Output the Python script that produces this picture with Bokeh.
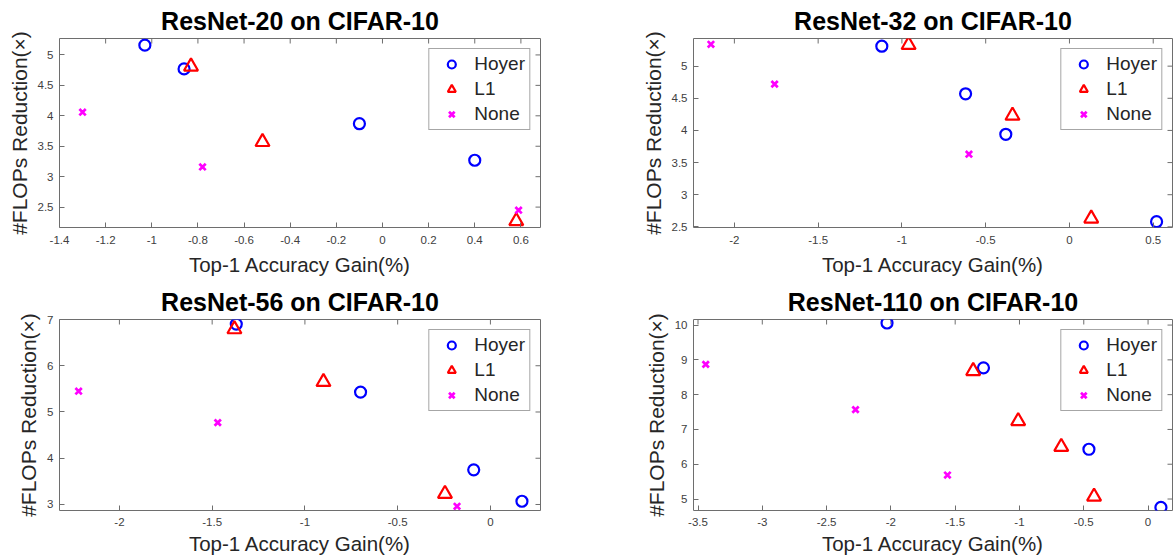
import math
from bokeh.plotting import figure
from bokeh.layouts import gridplot
from bokeh.models import FixedTicker, CustomJSTickFormatter, Range1d
from bokeh.embed import file_html
from bokeh.resources import INLINE

# ---------------- data ----------------
titles = ["ResNet-20 on CIFAR-10", "ResNet-32 on CIFAR-10",
          "ResNet-56 on CIFAR-10", "ResNet-110 on CIFAR-10"]
series_names = ["Hoyer", "L1", "None"]
x_label = "Top-1 Accuracy Gain(%)"
y_label = "#FLOPs Reduction(×)"

r20_hoyer_x = [-1.03, -0.86, -0.10, 0.40]
r20_hoyer_y = [5.16, 4.77, 3.87, 3.27]
r20_l1_x = [-0.83, -0.52, 0.58]
r20_l1_y = [4.81, 3.57, 2.27]
r20_none_x = [-1.30, -0.78, 0.59]
r20_none_y = [4.06, 3.16, 2.45]

r32_hoyer_x = [-1.12, -0.62, -0.38, 0.52]
r32_hoyer_y = [5.31, 4.57, 3.94, 2.58]
r32_l1_x = [-0.96, -0.34, 0.13]
r32_l1_y = [5.33, 4.23, 2.63]
r32_none_x = [-2.14, -1.76, -0.60]
r32_none_y = [5.34, 4.72, 3.63]

r56_hoyer_x = [-1.37, -0.70, -0.09, 0.17]
r56_hoyer_y = [6.90, 5.43, 3.75, 3.07]
r56_l1_x = [-1.38, -0.90, -0.245]
r56_l1_y = [6.79, 5.65, 3.23]
r56_none_x = [-2.22, -1.47, -0.18]
r56_none_y = [5.45, 4.77, 2.96]

r110_hoyer_x = [-2.03, -1.28, -0.46, 0.10]
r110_hoyer_y = [10.06, 8.77, 6.43, 4.76]
r110_l1_x = [-1.36, -1.01, -0.675, -0.42]
r110_l1_y = [8.68, 7.24, 6.50, 5.07]
r110_none_x = [-3.44, -2.275, -1.56]
r110_none_y = [8.87, 7.57, 5.69]

r20_xticks = [-1.4, -1.2, -1.0, -0.8, -0.6, -0.4, -0.2, 0.0, 0.2, 0.4, 0.6]
r20_yticks = [2.5, 3.0, 3.5, 4.0, 4.5, 5.0]
r32_xticks = [-2.0, -1.5, -1.0, -0.5, 0.0, 0.5]
r32_yticks = [2.5, 3.0, 3.5, 4.0, 4.5, 5.0]
r56_xticks = [-2.0, -1.5, -1.0, -0.5, 0.0]
r56_yticks = [3, 4, 5, 6, 7]
r110_xticks = [-3.5, -3.0, -2.5, -2.0, -1.5, -1.0, -0.5, 0.0]
r110_yticks = [5, 6, 7, 8, 9, 10]

r20_xlim, r20_ylim = (-1.40, 0.685), (2.165, 5.27)
r32_xlim, r32_ylim = (-2.244, 0.615), (2.49, 5.43)
r56_xlim, r56_ylim = (-2.323, 0.27), (2.87, 7.0)
r110_xlim, r110_ylim = (-3.535, 0.19), (4.67, 10.16)

# ---------------- style ----------------
FONT = "Liberation Sans"
AX = "#6e6e6e"
TICKTXT = "#404040"
LBL = "#262626"
fmt = CustomJSTickFormatter(code="return String(Math.round(tick*10)/10);")


def make(title, sets, xticks, yticks, xlim, ylim, w, h, borders, xstand):
    left, right, top, bottom = borders
    p = figure(width=w, height=h, output_backend="svg", toolbar_location=None,
               x_range=Range1d(*xlim), y_range=Range1d(*ylim),
               min_border_left=left, min_border_right=right,
               min_border_top=top, min_border_bottom=bottom)
    p.title.text = title
    p.title.align = "center"
    p.title.text_font = FONT
    p.title.text_font_size = "25px"
    p.title.text_font_style = "bold"
    p.title.text_color = "#000000"
    p.title.standoff = 8
    p.xgrid.visible = False
    p.ygrid.visible = False
    p.outline_line_color = AX
    p.outline_line_width = 1
    p.background_fill_color = "white"
    p.border_fill_color = "white"

    for ax in (p.xaxis[0], p.yaxis[0]):
        ax.axis_line_color = None
        ax.major_tick_in = 5
        ax.major_tick_out = 0
        ax.minor_tick_line_color = None
        ax.major_tick_line_color = AX
        ax.major_label_text_font = FONT
        ax.major_label_text_font_size = "11.5px"
        ax.major_label_text_color = TICKTXT
        ax.axis_label_text_font = FONT
        ax.axis_label_text_font_style = "normal"
        ax.axis_label_text_color = LBL
        ax.formatter = fmt
    p.xaxis[0].axis_label_text_font_size = "20.5px"
    p.yaxis[0].axis_label_text_font_size = "21px"
    p.xaxis[0].ticker = FixedTicker(ticks=xticks)
    p.yaxis[0].ticker = FixedTicker(ticks=yticks)
    p.xaxis[0].axis_label = x_label
    p.yaxis[0].axis_label = y_label
    p.xaxis[0].major_label_standoff = xstand[0]
    p.yaxis[0].major_label_standoff = 6
    p.xaxis[0].axis_label_standoff = xstand[1]
    p.yaxis[0].axis_label_standoff = 4

    # inward ticks on the top and right edges of the box
    p.ray(x=xticks, y=[ylim[1]] * len(xticks), length=5, length_units="screen",
          angle=-math.pi / 2, line_color=AX, line_width=1)
    p.ray(x=[xlim[1]] * len(yticks), y=yticks, length=5, length_units="screen",
          angle=math.pi, line_color=AX, line_width=1)

    (hx, hy), (lx, ly), (nx, ny) = sets
    p.scatter(hx, hy, marker="circle", size=11, fill_color=None,
              line_color="#0000ff", line_width=2.2, legend_label=series_names[0])
    p.scatter(lx, ly, marker="triangle", size=14, fill_color=None,
              line_color="#ff0000", line_width=2.2, legend_label=series_names[1])
    p.scatter(nx, ny, marker="x", size=9, line_color="#ff00ff",
              line_width=2.7, legend_label=series_names[2])

    lg = p.legend[0]
    lg.location = "top_right"
    lg.margin = 10
    lg.padding = 4
    lg.spacing = 3
    lg.glyph_width = 36
    lg.glyph_height = 20
    lg.label_height = 20
    lg.label_standoff = 5
    lg.label_text_font = FONT
    lg.label_text_font_size = "19px"
    lg.label_text_color = LBL
    lg.border_line_color = "#4d4d4d"
    lg.border_line_width = 1
    lg.background_fill_color = "white"
    lg.background_fill_alpha = 1
    return p


p1 = make(titles[0], [(r20_hoyer_x, r20_hoyer_y), (r20_l1_x, r20_l1_y), (r20_none_x, r20_none_y)],
          r20_xticks, r20_yticks, r20_xlim, r20_ylim, 587, 279, (59, 47, 36, 51), (8, 6))
p2 = make(titles[1], [(r32_hoyer_x, r32_hoyer_y), (r32_l1_x, r32_l1_y), (r32_none_x, r32_none_y)],
          r32_xticks, r32_yticks, r32_xlim, r32_ylim, 588, 279, (106, 3, 36, 52), (8, 6))
p3 = make(titles[2], [(r56_hoyer_x, r56_hoyer_y), (r56_l1_x, r56_l1_y), (r56_none_x, r56_none_y)],
          r56_xticks, r56_yticks, r56_xlim, r56_ylim, 587, 279, (59, 47, 40, 48), (7, 3))
p4 = make(titles[3], [(r110_hoyer_x, r110_hoyer_y), (r110_l1_x, r110_l1_y), (r110_none_x, r110_none_y)],
          r110_xticks, r110_yticks, r110_xlim, r110_ylim, 588, 279, (106, 3, 40, 48), (7, 3))

layout = gridplot([[p1, p2], [p3, p4]], toolbar_location=None)

open("out.html", "w").write(file_html(layout, INLINE))
